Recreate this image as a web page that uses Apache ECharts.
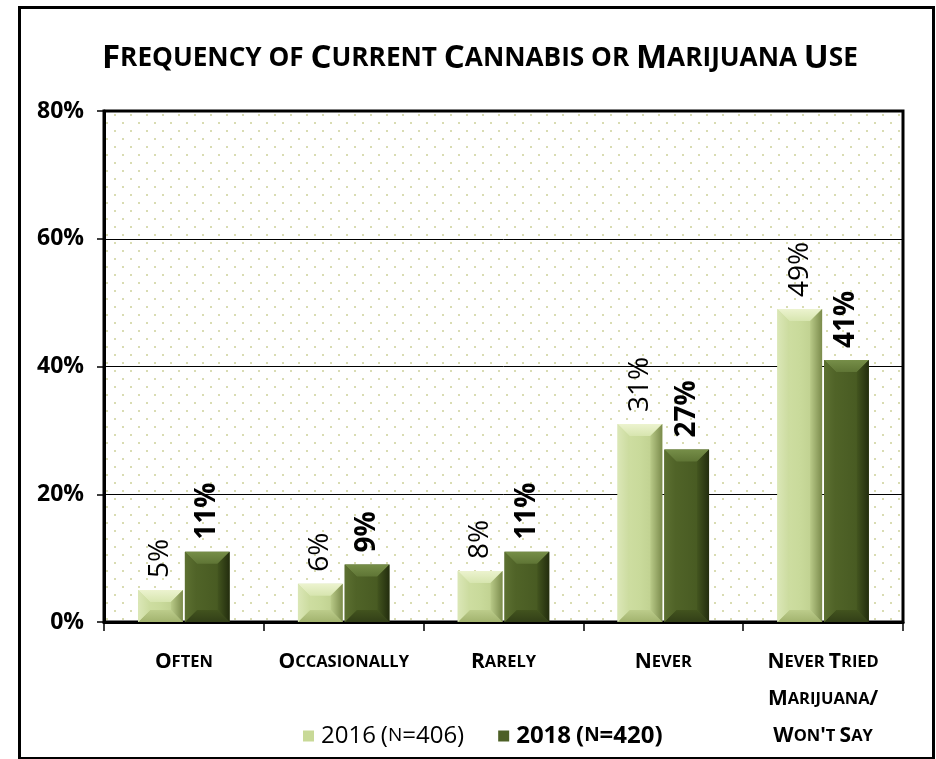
<!DOCTYPE html>
<html>
<head>
<meta charset="utf-8">
<script src="https://cdn.jsdelivr.net/npm/echarts@6/dist/echarts.min.js"></script>
<style>
  html, body { margin: 0; padding: 0; background: #fff; }
  #chart { width: 936px; height: 759px; }
</style>
</head>
<body>
<div id="chart"></div>
<script>
// Chart data
const titleText = 'Frequency of Current Cannabis or Marijuana Use';
const categories = ['Often', 'Occasionally', 'Rarely', 'Never', 'Never Tried\nMarijuana/\nWon\'t Say'];
const seriesNames = ['2016 (n=406)', '2018 (n=420)'];
const values2016 = [5, 6, 8, 31, 49];
const values2018 = [11, 9, 11, 27, 41];
const yTicks = [0, 20, 40, 60, 80];

const FONT = '"Open Sans", "Noto Sans", sans-serif';

// Small-caps rendering: capitals stay full size, lower-case letters become smaller capitals
function smallCaps(text, big, small) {
  return text.split('\n').map(function (line) {
    let out = '', run = '', cur = null;
    for (const ch of line) {
      const isSmall = ch !== ch.toUpperCase() || ch === ' ';
      const tag = isSmall ? small : big;
      if (cur !== null && tag !== cur) { out += '{' + cur + '|' + run + '}'; run = ''; }
      cur = tag;
      run += isSmall ? ch.toUpperCase() : ch;
    }
    if (run) out += '{' + cur + '|' + run + '}';
    return out;
  }).join('\n');
}

// Dotted plot background
function dotPattern() {
  const c = document.createElement('canvas');
  c.width = 16; c.height = 16;
  const g = c.getContext('2d');
  g.fillStyle = '#ffffff';
  g.fillRect(0, 0, 16, 16);
  g.fillStyle = '#d9dcb2';
  g.fillRect(2, 2, 2, 2);
  g.fillRect(10, 10, 2, 2);
  return c;
}

function lg(x0, y0, x1, y1, a, b) {
  return new echarts.graphic.LinearGradient(x0, y0, x1, y1, [
    { offset: 0, color: a }, { offset: 1, color: b }
  ]);
}

// Bevelled bar colours: [outer, inner] for each edge
const palettes = [
  { face: ['#d2e1a6', '#c9da9b', '#b9ca88'], top: ['#ecf3cf', '#d7e5af'], left: ['#dbe7b7', '#cbdb9e'],
    right: ['#b9ca88', '#7b8b4c'], bottom: ['#bccc8b', '#a2b36e'] },
  { face: ['#54682a', '#4c5f25', '#44561f'], top: ['#768e48', '#5f7535'], left: ['#5c7031', '#4f6227'],
    right: ['#43551f', '#232d0e'], bottom: ['#42531e', '#323f17'] }
];

function bevelRenderer(seriesIndex) {
  const p = palettes[seriesIndex];
  return function (params, api) {
    const idx = api.value(0);
    const val = api.value(1);
    const band = api.size([1, 0])[0];
    const w = band * 0.28;
    const base = api.coord([idx, 0]);
    const top = api.coord([idx, val]);
    const x0 = seriesIndex === 0 ? base[0] - w - 1 : base[0] + 1;
    const x1 = x0 + w;
    const y0 = top[1];
    const y1 = base[1];
    const b = Math.min(12, w / 2, (y1 - y0) / 2);
    const face = new echarts.graphic.LinearGradient(0, 0, 1, 0, [
      { offset: 0, color: p.face[0] },
      { offset: 0.5, color: p.face[1] },
      { offset: 1, color: p.face[2] }
    ]);
    return {
      type: 'group',
      children: [
        { type: 'rect', shape: { x: x0, y: y0, width: w, height: y1 - y0 }, style: { fill: face } },
        { type: 'polygon', shape: { points: [[x0, y0], [x1, y0], [x1 - b, y0 + b], [x0 + b, y0 + b]] },
          style: { fill: lg(0, 0, 0, 1, p.top[0], p.top[1]) } },
        { type: 'polygon', shape: { points: [[x0, y1], [x1, y1], [x1 - b, y1 - b], [x0 + b, y1 - b]] },
          style: { fill: lg(0, 0, 0, 1, p.bottom[0], p.bottom[1]) } },
        { type: 'polygon', shape: { points: [[x0, y0], [x0 + b, y0 + b], [x0 + b, y1 - b], [x0, y1]] },
          style: { fill: lg(0, 0, 1, 0, p.left[0], p.left[1]) } },
        { type: 'polygon', shape: { points: [[x1, y0], [x1 - b, y0 + b], [x1 - b, y1 - b], [x1, y1]] },
          style: { fill: lg(0, 0, 1, 0, p.right[0], p.right[1]) } },
        {
          type: 'text',
          x: (x0 + x1) / 2,
          y: y0 - 12,
          rotation: Math.PI / 2,
          style: {
            text: val + '%',
            font: (seriesIndex === 1 ? 'bold ' : '') + '28px ' + FONT,
            fill: '#000',
            align: 'left',
            verticalAlign: 'middle'
          }
        }
      ]
    };
  };
}

const chart = echarts.init(document.getElementById('chart'), null, { renderer: 'canvas' });

const legendRich = {
  nb: { fontFamily: FONT, fontSize: 24, color: '#000' },
  ns: { fontFamily: FONT, fontSize: 19, color: '#000' },
  bb: { fontFamily: FONT, fontSize: 24, fontWeight: 'bold', color: '#000' },
  bs: { fontFamily: FONT, fontSize: 19, fontWeight: 'bold', color: '#000' }
};

chart.setOption({
  animation: false,
  title: {
    text: smallCaps(titleText, 'a', 'b'),
    left: 97,
    top: 37,
    textStyle: {
      rich: {
        a: { fontFamily: FONT, fontWeight: 'bold', fontSize: 33, color: '#000' },
        b: { fontFamily: FONT, fontWeight: 'bold', fontSize: 26.2, color: '#000' }
      }
    }
  },
  graphic: [
    { type: 'rect', left: 17, top: 5, shape: { width: 914, height: 751 }, style: { fill: 'none', stroke: '#000', lineWidth: 3 } }
  ],
  legend: {
    bottom: 6,
    left: 298,
    itemWidth: 11,
    itemHeight: 11,
    itemGap: 34,
    icon: 'rect',
    data: seriesNames,
    formatter: function (name) {
      return name === seriesNames[0] ? smallCaps(name, 'nb', 'ns') : smallCaps(name, 'bb', 'bs');
    },
    textStyle: { rich: legendRich, padding: [0, 0, 0, 2] }
  },
  grid: {
    left: 104, right: 33, top: 111, bottom: 137,
    show: true,
    backgroundColor: { image: dotPattern(), repeat: 'repeat' },
    borderColor: '#000',
    borderWidth: 3
  },
  xAxis: {
    type: 'category',
    data: categories,
    axisLine: { lineStyle: { color: '#000', width: 3 } },
    axisTick: { show: true, length: 9, lineStyle: { color: '#000', width: 1.5 } },
    axisLabel: {
      interval: 0,
      margin: 22,
      lineHeight: 37,
      formatter: function (v) { return smallCaps(v, 'a', 'b'); },
      rich: {
        a: { fontFamily: FONT, fontWeight: 'bold', fontSize: 21, color: '#000', lineHeight: 37 },
        b: { fontFamily: FONT, fontWeight: 'bold', fontSize: 16.5, color: '#000', lineHeight: 37 }
      }
    }
  },
  yAxis: {
    type: 'value',
    min: yTicks[0],
    max: yTicks[yTicks.length - 1],
    interval: yTicks[1] - yTicks[0],
    axisLine: { show: true, lineStyle: { color: '#000', width: 3 } },
    axisTick: { show: true, length: 7, lineStyle: { color: '#000', width: 1.5 } },
    axisLabel: {
      margin: 20,
      formatter: '{value}%',
      fontFamily: FONT, fontWeight: 'bold', fontSize: 23, color: '#000'
    },
    splitLine: { lineStyle: { color: '#000', width: 1 } }
  },
  series: [
    {
      name: seriesNames[0],
      type: 'custom',
      renderItem: bevelRenderer(0),
      encode: { x: 0, y: 1 },
      itemStyle: { color: '#c8d997' },
      data: values2016.map(function (v, i) { return [i, v]; }),
      z: 3
    },
    {
      name: seriesNames[1],
      type: 'custom',
      renderItem: bevelRenderer(1),
      encode: { x: 0, y: 1 },
      itemStyle: { color: '#4d6026' },
      data: values2018.map(function (v, i) { return [i, v]; }),
      z: 3
    }
  ]
});
</script>
</body>
</html>
